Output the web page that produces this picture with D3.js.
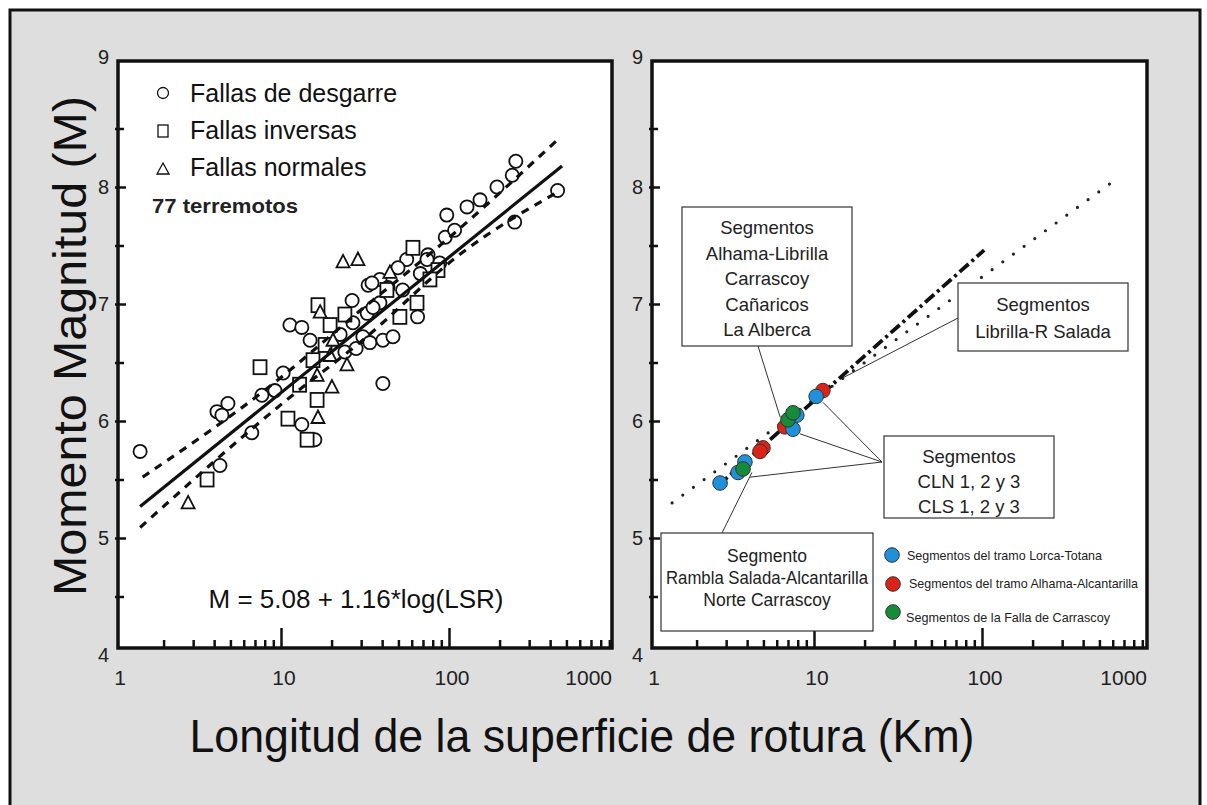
<!DOCTYPE html>
<html><head><meta charset="utf-8">
<script src="https://cdn.jsdelivr.net/npm/d3@7"></script>
<style>body{margin:0;background:#fff}svg{display:block}text{font-family:"Liberation Sans",Arial,sans-serif}</style>
</head><body><svg id="c" width="1207" height="805"></svg>
<script>
// ---------- data ----------
const xTickValues=[1,10,100,1000];
const xTickLabels=["1","10","100","1000"];
const yTickValues=[4,5,6,7,8,9];
const yTickLabels=["4","5","6","7","8","9"];
const xMinor=[2,3,4,5,6,7,8,9,20,30,40,50,60,70,80,90,200,300,400,500,600,700,800,900];
const yMinor=[4.5,5.5,6.5,7.5,8.5];

const legendLabels=["Fallas de desgarre","Fallas inversas","Fallas normales"];
const desgarre=[[1.45,5.74],[4.16,6.08],[4.83,6.15],[4.45,6.05],[6.7,5.90],[4.33,5.62],[13.3,5.97],[15.9,5.84],
[11.3,6.82],[13.3,6.80],[10.3,6.41],[40.4,6.32],[97,7.76],[128,7.83],[246,7.70],[443,7.97],[193,8.00],[250,8.22],
[238,8.10],[95,7.57],[75,7.42],[56,7.38],[88,7.35],[65,6.89],[33,7.16],[38.8,7.21],[43.3,7.14],[34.8,7.18],
[38.8,7.01],[26.8,6.84],[32.6,6.92],[35.3,6.97],[30.7,6.72],[33.8,6.67],[40.4,6.69],[46.4,6.72],[22.5,6.74],
[24,6.59],[14.9,6.69],[9.2,6.26],[7.7,6.22],[67.5,7.26],[74,7.38],[49.7,7.31],[26.5,7.03],[53,7.12],[108,7.63],
[153,7.89],[28,6.62]];
const inversas=[[3.63,5.50],[11.0,6.02],[14.3,5.84],[16.4,6.18],[16.6,6.99],[7.5,6.46],[61,7.48],[86,7.29],
[64.5,7.01],[42.7,7.12],[19.6,6.82],[18.3,6.65],[15.5,6.52],[12.9,6.31],[77,7.21],[24,6.91],[51,6.89]];
const normales=[[2.80,5.30],[16.6,6.03],[23.4,7.36],[28.7,7.38],[17.1,6.93],[16.4,6.39],[20.1,6.29],[44.5,7.27],
[19.6,6.56],[24.7,6.48],[20.4,6.69]];
const regresion=[[1.45,5.27],[471,8.18]];
const bandaSup=[[1.5,5.52],[9,6.32],[30,6.95],[97,7.55],[440,8.40]];
const bandaInf=[[1.45,5.09],[10.8,6.18],[30,6.68],[120,7.44],[460,7.97]];

const lineaPuntos=[[1.43,5.30],[620,8.06]];
const lineaTrazos=[[2.7,5.45],[103,7.46]];
const lorcaTotana=[[2.76,5.47],[3.53,5.56],[3.88,5.65],[7.5,5.93],[7.9,6.05],[10.3,6.21]];
const alhamaAlcantarilla=[[4.97,5.77],[4.77,5.74],[6.7,5.95],[11.3,6.26]];
const carrascoy=[[3.78,5.59],[7.0,6.01],[7.5,6.07]];
const seriesLabels=["Segmentos del tramo Lorca-Totana","Segmentos del tramo Alhama-Alcantarilla","Segmentos de la Falla de Carrascoy"];
const seriesColors=["#1e90dc","#dc2318","#168c3a"];

const box1Lines=["Segmentos","Alhama-Librilla","Carrascoy","Cañaricos","La Alberca"];
const box2Lines=["Segmentos","Librilla-R Salada"];
const box3Lines=["Segmentos","CLN 1, 2 y 3","CLS 1, 2 y 3"];
const box4Lines=["Segmento","Rambla Salada-Alcantarilla","Norte Carrascoy"];
const box1Target=[[6.3,6.03]];
const box2Target=[[14.9,6.37]];
const box3Targets=[[11.3,6.16],[8.26,5.89],[4.16,5.52]];
const box4Target=[[4.27,5.56]];

// ---------- layout ----------
const svg=d3.select("#c");
const fTop=61,fBot=648;
const L={fl:118,fr:612}, R={fl:652,fr:1147};
const xL=d3.scaleLog().domain([1,1000]).range([113,617]);
const xR=d3.scaleLog().domain([1,1000]).range([646,1150]);
const y=d3.scaleLinear().domain([4,9]).range([655,70]);

// background
svg.append("rect").attr("x",10).attr("y",10).attr("width",1190).attr("height",800).attr("fill","#dedede");
svg.append("path").attr("d","M10,810 V10 H1200 V810").attr("fill","none").attr("stroke","#111").attr("stroke-width",3);

function panel(P,x){
  const g=svg.append("g");
  g.append("rect").attr("x",P.fl).attr("y",fTop).attr("width",P.fr-P.fl).attr("height",fBot-fTop)
   .attr("fill","#fff");
  const ya=d3.axisLeft(y).tickValues([5,6,7,8]).tickSize(-11).tickFormat("");
  const yb=d3.axisLeft(y).tickValues(yMinor).tickSize(-9).tickFormat("");
  [ya,yb].forEach(a=>{const t=g.append("g").attr("transform",`translate(${P.fl-3},0)`).call(a);
    t.select(".domain").remove(); t.selectAll("line").attr("stroke","#111").attr("stroke-width",2.5);});
  const xa=d3.axisBottom(x).tickValues([10,100]).tickSize(-20).tickFormat("");
  const xb=d3.axisBottom(x).tickValues(xMinor).tickSize(-8).tickFormat("");
  [xa,xb].forEach(a=>{const t=g.append("g").attr("transform",`translate(0,${fBot})`).call(a);
    t.select(".domain").remove(); t.selectAll("line").attr("stroke","#111").attr("stroke-width",2.5);});
  g.selectAll("text.yl").data(yTickValues).join("text").attr("class","yl")
   .attr("x",P.fl-9).attr("y",(d)=> d===9? fTop-4 : y(d)).attr("dy","0.36em")
   .attr("text-anchor","end").attr("font-size",20).attr("fill","#222")
   .text((d,i)=>yTickLabels[i]);
  g.selectAll("text.xl").data(xTickValues).join("text").attr("class","xl")
   .attr("x",(d,i)=> i===0? P.fl+2 : i===3? P.fr : x(d)+3)
   .attr("y",fBot+37).attr("text-anchor",(d,i)=> i===3?"end":"middle")
   .attr("font-size",21).attr("fill","#222").text((d,i)=>xTickLabels[i]);
  return {g,frame:()=>g.append("rect").attr("x",P.fl).attr("y",fTop).attr("width",P.fr-P.fl).attr("height",fBot-fTop)
   .attr("fill","none").attr("stroke","#111").attr("stroke-width",3.5)};
}

// ---------- left panel ----------
const pl=panel(L,xL);
const gl=pl.g;
const lineL=d3.line().x(d=>xL(d[0])).y(d=>y(d[1]));
const curveL=d3.line().x(d=>xL(d[0])).y(d=>y(d[1])).curve(d3.curveMonotoneX);
function circ(g,cx,cy){g.append("circle").attr("cx",cx).attr("cy",cy).attr("r",6.6).attr("fill","#fff").attr("stroke","#111").attr("stroke-width",1.8);}
function sq(g,cx,cy){g.append("rect").attr("x",cx-6.5).attr("y",cy-7).attr("width",13).attr("height",14).attr("fill","#fff").attr("stroke","#111").attr("stroke-width",1.8);}
function tri(g,cx,cy){g.append("path").attr("d",`M${cx},${cy-7} L${cx+6.5},${cy+5.5} L${cx-6.5},${cy+5.5}Z`).attr("fill","#fff").attr("stroke","#111").attr("stroke-width",1.8);}
const pts=gl.append("g");
desgarre.forEach(d=>circ(pts,xL(d[0]),y(d[1])));
inversas.forEach(d=>sq(pts,xL(d[0]),y(d[1])));
normales.forEach(d=>tri(pts,xL(d[0]),y(d[1])));
gl.append("path").attr("d",lineL(regresion)).attr("fill","none").attr("stroke","#111").attr("stroke-width",3.2);
[bandaSup,bandaInf].forEach(b=>gl.append("path").attr("d",curveL(b)).attr("fill","none").attr("stroke","#111")
  .attr("stroke-width",3.2).attr("stroke-dasharray","8,7"));
// legend
const lg=gl.append("g");
function lcirc(cx,cy){lg.append("circle").attr("cx",cx).attr("cy",cy).attr("r",5.5).attr("fill","#fff").attr("stroke","#111").attr("stroke-width",1.3);}
function lsq(cx,cy){lg.append("rect").attr("x",cx-5).attr("y",cy-6).attr("width",10).attr("height",12).attr("fill","#fff").attr("stroke","#111").attr("stroke-width",1.3);}
function ltri(cx,cy){lg.append("path").attr("d",`M${cx},${cy-6} L${cx+6},${cy+5} L${cx-6},${cy+5}Z`).attr("fill","#fff").attr("stroke","#111").attr("stroke-width",1.3);}
lcirc(163,93); lsq(163,131); ltri(163,169);
legendLabels.forEach((t,i)=>lg.append("text").attr("x",190).attr("y",102+i*37).attr("font-size",25).attr("fill","#111").text(t));
lg.append("text").attr("x",152).attr("y",213).attr("font-size",21).attr("font-weight","bold").attr("fill","#222")
  .attr("textLength",146).attr("lengthAdjust","spacingAndGlyphs").text("77 terremotos");
gl.append("text").attr("x",356).attr("y",608).attr("text-anchor","middle").attr("font-size",26).attr("fill","#111")
  .text("M = 5.08 + 1.16*log(LSR)");
pl.frame();

// ---------- right panel ----------
const pr=panel(R,xR);
const gr=pr.g;
const lineR=d3.line().x(d=>xR(d[0])).y(d=>y(d[1]));
gr.append("path").attr("d",lineR(lineaPuntos)).attr("fill","none").attr("stroke","#222").attr("stroke-width",3.2)
  .attr("stroke-linecap","round").attr("stroke-dasharray","0,13.2");
gr.append("path").attr("d",lineR(lineaTrazos)).attr("fill","none").attr("stroke","#111").attr("stroke-width",3.8)
  .attr("stroke-dasharray","12,4,3,4");
function cpt(g,cx,cy,c){g.append("circle").attr("cx",cx).attr("cy",cy).attr("r",7.3).attr("fill",c).attr("stroke","#333").attr("stroke-width",1);}
[[alhamaAlcantarilla,1],[lorcaTotana,0],[carrascoy,2]].forEach(([s,i])=>s.forEach(d=>cpt(gr,xR(d[0]),y(d[1]),seriesColors[i])));

function leader(x0,y0,t){gr.append("line").attr("x1",x0).attr("y1",y0).attr("x2",xR(t[0])).attr("y2",y(t[1]))
  .attr("stroke","#333").attr("stroke-width",1);}
leader(758,346,box1Target[0]);
leader(958,318,box2Target[0]);
box3Targets.forEach(t=>leader(882,462,t));
leader(722,533,box4Target[0]);
function box(x0,y0,w,h,lines,y1,dy,fs,tl){
  gr.append("rect").attr("x",x0).attr("y",y0).attr("width",w).attr("height",h).attr("fill","#fff").attr("stroke","#333").attr("stroke-width",1.2);
  lines.forEach((t,i)=>{const e=gr.append("text").attr("x",x0+w/2).attr("y",y1+i*dy).attr("text-anchor","middle")
    .attr("font-size",fs).attr("fill","#222").text(t);
    if(tl&&tl[i]) e.attr("textLength",tl[i]).attr("lengthAdjust","spacingAndGlyphs");});
}
box(682,207,170,139,box1Lines,234,25.5,18.5);
box(958,283,170,68,box2Lines,311,27,18.5);
box(884,436,170,82,box3Lines,463,25,18.5);
box(661,533,212,98,box4Lines,562,22,17.5,[null,202,null]);
const lgY=[555,584,612], txY=[560,588,622], txX=[907,909,906], txW=[195,229,204];
seriesLabels.forEach((t,i)=>{
  cpt(gr,xR(1)+246+(i===0?0:1),lgY[i],seriesColors[i]);
  gr.append("text").attr("x",txX[i]).attr("y",txY[i]).attr("font-size",13).attr("fill","#222")
   .attr("textLength",txW[i]).attr("lengthAdjust","spacingAndGlyphs").text(t);
});
pr.frame();

svg.append("text").attr("transform","translate(86,346) rotate(-90)").attr("text-anchor","middle")
  .attr("font-size",47).attr("fill","#111").attr("textLength",500).attr("lengthAdjust","spacingAndGlyphs")
  .text("Momento Magnitud (M)");
svg.append("text").attr("x",582).attr("y",752).attr("text-anchor","middle").attr("font-size",47).attr("fill","#111")
  .attr("textLength",785).attr("lengthAdjust","spacingAndGlyphs").text("Longitud de la superficie de rotura (Km)");
</script></body></html>
